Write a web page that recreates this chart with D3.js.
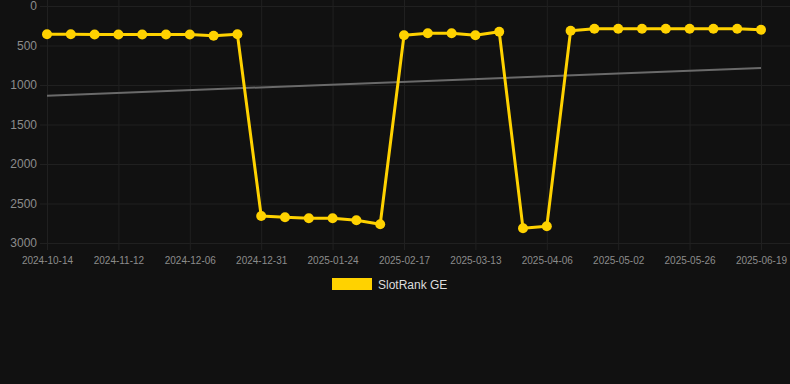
<!DOCTYPE html>
<html>
<head>
<meta charset="utf-8">
<script src="https://cdn.jsdelivr.net/npm/d3@7"></script>
<style>
  html, body { margin: 0; padding: 0; background: #111111; }
  #chart { width: 790px; height: 384px; }
  text { font-family: Arial, "Liberation Sans", Helvetica, sans-serif; }
</style>
</head>
<body>
<div id="chart"></div>
<script>
// SlotRank GE, one point per period, label shown on every 3rd point
var tickLabels = ["2024-10-14", "2024-11-12", "2024-12-06", "2024-12-31", "2025-01-24",
  "2025-02-17", "2025-03-13", "2025-04-06", "2025-05-02", "2025-05-26", "2025-06-19"];
var rankValues = [358, 358, 360, 360, 360, 360, 360, 376, 358,
  2658, 2675, 2687, 2687, 2713, 2763,
  371, 346, 346, 371, 325,
  2814, 2789,
  313, 287, 287, 287, 287, 287, 287, 287, 300];
var trendValues = [1135, 785];
var yTicks = [0, 500, 1000, 1500, 2000, 2500, 3000];
var seriesName = "SlotRank GE";

(function () {
  'use strict'
  drawRankChart("chart");
})()

function drawRankChart(divIdStr) {
  var W = 790, H = 384;
  var margin = { top: 6, left: 47, right: 29, bottom: 141 };
  var lineColor = "#ffd200";

  var svg = d3.select("#" + divIdStr).append("svg")
    .attr("width", W)
    .attr("height", H);

  var x = d3.scaleLinear().domain([0, rankValues.length - 1]).range([margin.left, W - margin.right]);
  var y = d3.scaleLinear().domain([0, 3000]).range([margin.top, H - margin.bottom]);
  var tickIdx = tickLabels.map(function (d, i) { return i * 3; });

  // horizontal gridlines
  svg.append("g")
    .attr("class", "yGrid")
    .attr("transform", "translate(40,0)")
    .call(d3.axisLeft(y).tickValues(yTicks).tickSize(-(W - 40)).tickFormat(""))
    .call(function (g) { g.select(".domain").remove(); })
    .selectAll("line").attr("stroke", "#202020");

  // vertical gridlines
  svg.append("g")
    .attr("class", "xGrid")
    .attr("transform", "translate(0," + (H - margin.bottom + 7) + ")")
    .call(d3.axisBottom(x).tickValues(tickIdx).tickSize(-(H - margin.bottom + 7)).tickFormat(""))
    .call(function (g) { g.select(".domain").remove(); })
    .selectAll("line").attr("stroke", "#202020");

  // y labels
  var yAx = svg.append("g")
    .attr("transform", "translate(37,0)")
    .call(d3.axisLeft(y).tickValues(yTicks).tickSize(0).tickPadding(0).tickFormat(d3.format("d")));
  yAx.select(".domain").remove();
  yAx.selectAll("text").attr("fill", "#8c8c8c").attr("font-size", "12px");

  // x labels
  var xAx = svg.append("g")
    .attr("transform", "translate(0," + (H - margin.bottom + 11) + ")")
    .call(d3.axisBottom(x).tickValues(tickIdx).tickSize(0)
      .tickFormat(function (d) { return tickLabels[d / 3]; }));
  xAx.select(".domain").remove();
  xAx.selectAll("text").attr("fill", "#8c8c8c").attr("font-size", "10px");

  // trend line
  svg.append("line")
    .attr("x1", x(0)).attr("y1", y(trendValues[0]))
    .attr("x2", x(rankValues.length - 1)).attr("y2", y(trendValues[1]))
    .attr("stroke", "#6a6a6a")
    .attr("stroke-width", 2);

  var line = d3.line()
    .x(function (d, i) { return x(i); })
    .y(function (d) { return y(d); });

  svg.append("path")
    .datum(rankValues)
    .attr("d", line)
    .attr("fill", "none")
    .attr("stroke", lineColor)
    .attr("stroke-width", 3)
    .attr("stroke-linejoin", "round");

  svg.append("g").selectAll("circle")
    .data(rankValues)
    .enter().append("circle")
    .attr("cx", function (d, i) { return x(i); })
    .attr("cy", function (d) { return y(d); })
    .attr("r", 5)
    .attr("fill", lineColor);

  // legend
  var lg = svg.append("g").attr("transform", "translate(332,278)");
  lg.append("rect")
    .attr("width", 40).attr("height", 12)
    .attr("fill", lineColor);
  lg.append("text")
    .attr("x", 46).attr("y", 10.5)
    .attr("fill", "#dddddd")
    .attr("font-size", "12px")
    .text(seriesName);
}
</script>
</body>
</html>
